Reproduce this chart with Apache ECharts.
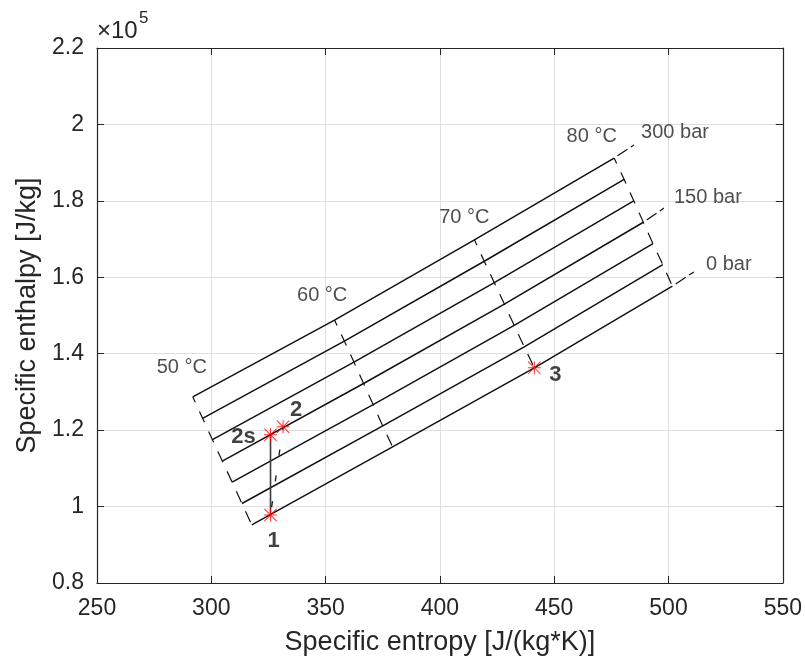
<!DOCTYPE html>
<html>
<head>
<meta charset="utf-8">
<title>h-s diagram</title>
<script src="https://cdn.jsdelivr.net/npm/echarts@6/dist/echarts.min.js"></script>
<style>
  html, body { margin: 0; padding: 0; background: #ffffff; }
  #chart { width: 805px; height: 664px; }
</style>
</head>
<body>
<div id="chart"></div>
<script>
// Axis ticks
const xTicks = [250, 300, 350, 400, 450, 500, 550];           // J/(kg*K)
const yTicks = [0.8, 1, 1.2, 1.4, 1.6, 1.8, 2, 2.2];          // x 1e5 J/kg
const yScale = 1e5;

// Isotherms (°C) sampled along every isobar
const temperatures = [50, 60, 70, 80];
const pressures = [300, 250, 200, 150, 100, 50, 0];           // bar

// Specific entropy [J/(kg*K)] and enthalpy [J/kg] at 50/60/70/80 °C
const s300 = [291.9, 353.9, 415.1, 476.2];
const h300 = [128700, 148800, 169800, 191200];
const s250 = [296.2, 358.2, 419.4, 480.6];
const h250 = [123100, 143300, 164200, 185600];
const s200 = [300.5, 362.4, 423.8, 484.8];
const h200 = [117500, 137800, 158600, 180000];
const s150 = [304.8, 366.6, 428.2, 489.0];
const h150 = [111900, 132200, 153000, 174400];
const s100 = [309.1, 370.8, 432.5, 493.2];
const h100 = [106400, 126700, 147400, 168800];
const s50  = [313.4, 375.0, 436.9, 497.5];
const h50  = [100800, 121100, 141800, 163300];
const s0   = [317.7, 379.3, 441.3, 501.7];
const h0   = [95200, 115600, 136300, 157700];

// Cycle states
const stateNames = ['1', '2s', '2', '3'];
const stateS = [325.9, 325.9, 331.4, 441.3];
const stateH = [97800, 118800, 120900, 136300];

// Isotherm captions
const tempLabelS = [287.1, 348.5, 410.7, 466.4];
const tempLabelH = [136300, 155200, 175700, 196800];

// Isobar captions with their leader ends
const captionPressures = [300, 150, 0];
const leaderEndS = [484.9, 498.0, 511.1];
const leaderEndH = [194600, 178100, 161400];
const pressureLabelS = [488.0, 502.4, 516.4];
const pressureLabelH = [197800, 180900, 163400];

const sSets = [s300, s250, s200, s150, s100, s50, s0];
const hSets = [h300, h250, h200, h150, h100, h50, h0];

const FONT = "'Liberation Sans', Arial, Helvetica, sans-serif";
const AXIS_COLOR = '#262626';
const GRID_COLOR = '#dfdfdf';

const STAR = 'path://M4.6 0h0.8v10h-0.8z M0 4.6h10v0.8h-10z ' +
             'M0.55 0L10 9.45L9.45 10L0 0.55z M9.45 0L10 0.55L0.55 10L0 9.45z';

const series = [];

// Isobars
pressures.forEach((p, i) => {
  series.push({
    name: p + ' bar',
    type: 'line',
    data: temperatures.map((t, j) => [sSets[i][j], hSets[i][j]]),
    symbol: 'none',
    lineStyle: { color: '#111111', width: 1.5 },
    z: 3
  });
});

// Isotherms
temperatures.forEach((t, j) => {
  series.push({
    name: t + ' °C',
    type: 'line',
    data: pressures.map((p, i) => [sSets[i][j], hSets[i][j]]),
    symbol: 'none',
    lineStyle: { color: '#111111', width: 1.2, type: [12, 10], dashOffset: 6 },
    z: 3
  });
});

// Leaders to the isobar captions
captionPressures.forEach((p, k) => {
  const i = pressures.indexOf(p);
  series.push({
    type: 'line',
    data: [[sSets[i][3], hSets[i][3]], [leaderEndS[k], leaderEndH[k]]],
    symbol: 'none',
    lineStyle: { color: '#111111', width: 1.2, type: [12, 4], dashOffset: -4 },
    z: 3
  });
});

// Compression 1 -> 2s (isentropic) and 1 -> 2 (real)
series.push({
  type: 'line',
  data: [[stateS[0], stateH[0]], [stateS[1], stateH[1]]],
  symbol: 'none',
  lineStyle: { color: '#3c3c3c', width: 1.6 },
  z: 4
});
series.push({
  type: 'line',
  data: [[stateS[0], stateH[0]], [stateS[2], stateH[2]]],
  symbol: 'none',
  lineStyle: { color: '#1a1a1a', width: 1.3, type: [6, 20], dashOffset: -8 },
  z: 4
});

// State markers with labels
const stateLabelOffsets = [[3, 26], [-27, 2], [13, -17], [21, 7]];
series.push({
  type: 'scatter',
  symbol: STAR,
  symbolSize: 13,
  itemStyle: { color: '#ff0000' },
  data: stateNames.map((n, k) => ({
    name: n,
    value: [stateS[k], stateH[k]],
    label: { offset: stateLabelOffsets[k] }
  })),
  label: {
    show: true,
    position: 'inside',
    formatter: '{b}',
    fontFamily: FONT,
    fontSize: 22,
    fontWeight: 'bold',
    color: '#111111'
  },
  z: 6
});

// Isotherm and isobar captions
series.push({
  type: 'scatter',
  symbolSize: 0,
  silent: true,
  data: temperatures.map((t, j) => ({
    name: t + ' °C',
    value: [tempLabelS[j], tempLabelH[j]],
    label: { align: 'center' }
  })).concat(captionPressures.map((p, k) => ({
    name: p + ' bar',
    value: [pressureLabelS[k], pressureLabelH[k]],
    label: { align: 'left' }
  }))),
  label: {
    show: true,
    position: 'inside',
    formatter: '{b}',
    fontFamily: FONT,
    fontSize: 20,
    color: '#1f1f1f',
    verticalAlign: 'middle'
  },
  z: 5
});

const xMin = xTicks[0], xMax = xTicks[xTicks.length - 1], xStep = xTicks[1] - xTicks[0];
const yMin = yTicks[0] * yScale, yMax = yTicks[yTicks.length - 1] * yScale;
const yStep = Math.round((yTicks[1] - yTicks[0]) * yScale);

const tickCommon = { inside: true, length: 7, lineStyle: { color: AXIS_COLOR, width: 1 } };

const option = {
  animation: false,
  backgroundColor: '#ffffff',
  grid: { left: 97, right: 21, top: 48, bottom: 81 },
  xAxis: [{
    type: 'value',
    min: xMin, max: xMax, interval: xStep,
    name: 'Specific entropy [J/(kg*K)]',
    nameLocation: 'middle',
    nameGap: 46,
    nameTextStyle: { fontFamily: FONT, fontSize: 27, color: '#262626' },
    axisLine: { show: true, lineStyle: { color: AXIS_COLOR, width: 1.2 } },
    axisTick: tickCommon,
    axisLabel: { fontFamily: FONT, fontSize: 23, color: '#262626', margin: 14 },
    splitLine: { show: true, lineStyle: { color: GRID_COLOR, width: 1 } }
  }, {
    type: 'value', position: 'top',
    min: xMin, max: xMax, interval: xStep,
    axisLine: { show: true, lineStyle: { color: AXIS_COLOR, width: 1.2 } },
    axisTick: tickCommon,
    axisLabel: { show: false },
    splitLine: { show: false }
  }],
  yAxis: [{
    type: 'value',
    min: yMin, max: yMax, interval: yStep,
    name: 'Specific enthalpy [J/kg]',
    nameLocation: 'middle',
    nameGap: 54,
    nameRotate: 90,
    nameTextStyle: { fontFamily: FONT, fontSize: 27, color: '#262626' },
    axisLine: { show: true, lineStyle: { color: AXIS_COLOR, width: 1.2 } },
    axisTick: tickCommon,
    axisLabel: {
      fontFamily: FONT, fontSize: 23, color: '#262626', margin: 13,
      formatter: v => String(parseFloat((v / yScale).toFixed(1)))
    },
    splitLine: { show: true, lineStyle: { color: GRID_COLOR, width: 1 } }
  }, {
    type: 'value', position: 'right',
    min: yMin, max: yMax, interval: yStep,
    axisLine: { show: true, lineStyle: { color: AXIS_COLOR, width: 1.2 } },
    axisTick: tickCommon,
    axisLabel: { show: false },
    splitLine: { show: false }
  }],
  graphic: [{
    type: 'text', left: 97, top: 19,
    style: { text: '×10', fontFamily: FONT, fontSize: 24, fill: '#262626' }
  }, {
    type: 'text', left: 139, top: 10,
    style: { text: '5', fontFamily: FONT, fontSize: 17, fill: '#262626' }
  }],
  series: series
};

const chart = echarts.init(document.getElementById('chart'), null, { renderer: 'canvas' });
chart.setOption(option);
</script>
</body>
</html>
